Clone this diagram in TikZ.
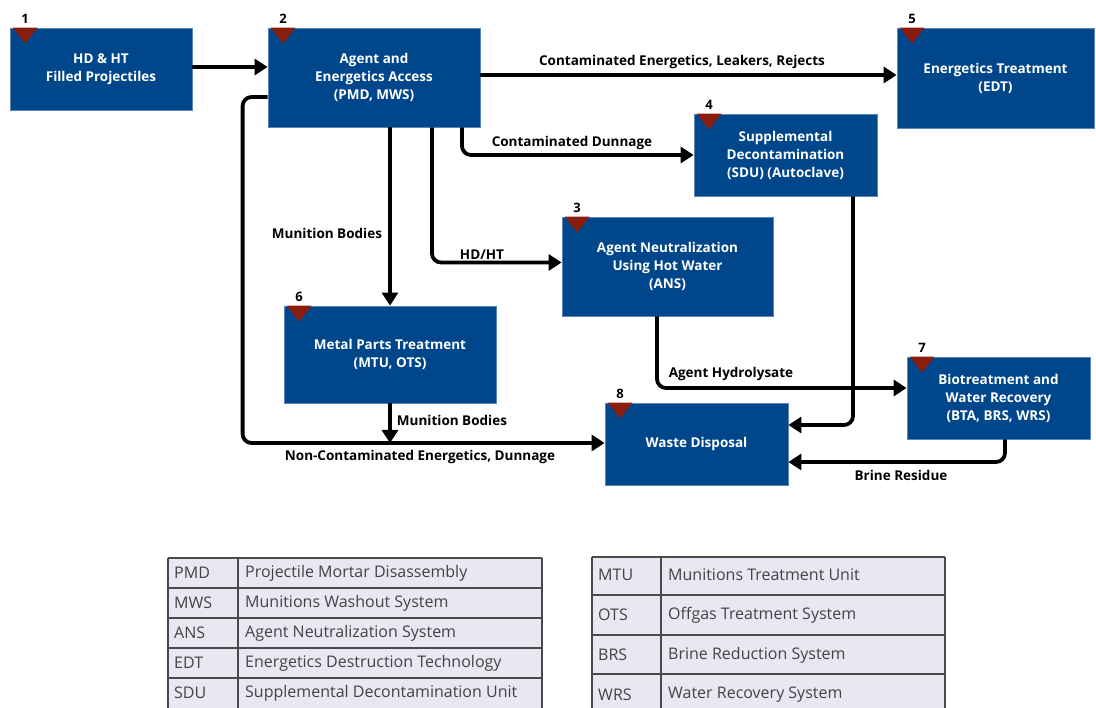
\documentclass[tikz,border=0pt]{standalone}
\usepackage{fontspec}
\setmainfont{Open Sans}
\usepackage{tikz}
\usepackage{xcolor}
\usetikzlibrary{arrows.meta}

\definecolor{unitblue}{HTML}{00468A}
\definecolor{unitedge}{HTML}{5C86B8}
\definecolor{markred}{HTML}{8A1E0E}
\definecolor{tablefill}{HTML}{E7E8F2}
\definecolor{tableline}{HTML}{4A4A4A}

\newcommand{\stepmark}[2]{%
  \fill[markred] ([xshift=3pt]#1.north west) -- ++(25,0) -- ++(-12.5,16) -- cycle;
  \node[stepnum] (n#1) at ([xshift=15.5pt,yshift=9pt]#1.north west) {#2};}

\begin{document}
\begin{tikzpicture}[x=1pt,y=-1pt,
    unit/.style={rectangle,fill=unitblue,draw=unitedge,line width=0.8pt,text=white,
      font=\fontsize{13.5}{18}\selectfont\bfseries,align=center,inner sep=0pt},
    flow/.style={line width=3.8pt,-{Triangle[length=13pt,width=16pt]},rounded corners=9pt},
    flowlabel/.style={font=\fontsize{13.5}{15}\selectfont\bfseries,inner sep=1pt},
    stepnum/.style={font=\fontsize{13}{14}\selectfont\bfseries,inner sep=0pt},
    cell/.style={font=\fontsize{16}{18}\selectfont,text=tableline!90!black,anchor=west,inner sep=0pt}]
\useasboundingbox (0,0) rectangle (1096,708);

% process units
\node[unit,minimum width=182pt,minimum height=82pt] (b1) at (101,69) {HD \& HT\\Filled Projectiles};
\node[unit,minimum width=212pt,minimum height=99pt] (b2) at (374,77.5) {Agent and\\Energetics Access\\(PMD, MWS)};
\node[unit,minimum width=211pt,minimum height=99pt] (b3) at (667.5,266.5) {Agent Neutralization\\Using Hot Water\\(ANS)};
\node[unit,minimum width=183pt,minimum height=82pt] (b4) at (785.5,155) {Supplemental\\Decontamination\\(SDU) (Autoclave)};
\node[unit,minimum width=197pt,minimum height=100pt] (b5) at (995.5,78) {Energetics Treatment\\(EDT)};
\node[unit,minimum width=212pt,minimum height=97pt] (b6) at (390,354.5) {Metal Parts Treatment\\(MTU, OTS)};
\node[unit,minimum width=183pt,minimum height=82pt] (b7) at (998.5,398) {Biotreatment and\\Water Recovery\\(BTA, BRS, WRS)};
\node[unit,minimum width=183pt,minimum height=82pt] (b8) at (696.5,444) {Waste Disposal};

% step markers
\stepmark{b1}{1}
\stepmark{b2}{2}
\stepmark{b3}{3}
\stepmark{b4}{4}
\stepmark{b5}{5}
\stepmark{b6}{6}
\stepmark{b7}{7}
\stepmark{b8}{8}

% flows
\draw[flow] ([yshift=2pt]b1.east) -- ([yshift=2pt]b1.east -| b2.west);
\draw[flow] ([yshift=2.5pt]b2.east) -- ([yshift=2.5pt]b2.east -| b5.west);
\draw[flow] ([xshift=88pt]b2.south) |- (b4.west);
\draw[flow] ([xshift=58pt]b2.south) |- ([yshift=4pt]b3.west);
\draw[flow] ([xshift=16pt]b2.south) -- (b6.north);
\draw[flow] ([yshift=-19.5pt]b2.west) -- ++(-25,0) |- ([yshift=1pt]b8.west);
\draw[flow] (b6.south) -- ([yshift=1pt]b6.south |- b8.west);
\draw[flow] ([xshift=-10.5pt]b3.south) |- ([yshift=10pt]b7.west);
\draw[flow] ([xshift=67.5pt]b4.south) |- ([yshift=19pt]b8.east);
\draw[flow] ([xshift=6.5pt]b7.south) |- ([yshift=-18pt]b8.east);

% flow labels
\node[flowlabel] (l1) at (682,62) {Contaminated Energetics, Leakers, Rejects};
\node[flowlabel] (l2) at (572,143) {Contaminated Dunnage};
\node[flowlabel] (l3) at (482,255) {HD/HT};
\node[flowlabel] (l4) at (327,233) {Munition Bodies};
\node[flowlabel] (l5) at (452,420) {Munition Bodies};
\node[flowlabel] (l6) at (420,457) {Non-Contaminated Energetics, Dunnage};
\node[flowlabel] (l7) at (731,374) {Agent Hydrolysate};
\node[flowlabel] (l8) at (901,475) {Brine Residue};

% acronym tables
\fill[tablefill] (168,558) rectangle (542,712);
\foreach \y in {558,588,618,648,678} \draw[tableline,line width=1.2pt] (168,\y) -- (542,\y);
\draw[tableline,line width=1.2pt] (168,558) -- (168,712) (238,558) -- (238,712);
\draw[tableline,line width=2pt] (542,558) -- (542,712);
\foreach \abbr/\full [count=\i] in {PMD/Projectile Mortar Disassembly,MWS/Munitions Washout System,
    ANS/Agent Neutralization System,EDT/Energetics Destruction Technology,SDU/Supplemental Decontamination Unit}{
  \node[cell] (ta\i) at (174,543+30*\i) {\abbr};
  \node[cell] (tf\i) at (245,543+30*\i) {\full};
}
\fill[tablefill] (592,557) rectangle (945,714);
\foreach \y in {557,595,635,674} \draw[tableline,line width=1.2pt] (592,\y) -- (945,\y);
\draw[tableline,line width=1.2pt] (592,557) -- (592,714) (661,557) -- (661,714);
\draw[tableline,line width=2pt] (945,557) -- (945,714);
\foreach \abbr/\full [count=\i] in {MTU/Munitions Treatment Unit,OTS/Offgas Treatment System,
    BRS/Brine Reduction System,WRS/Water Recovery System}{
  \node[cell] (ra\i) at (598,535+40*\i) {\abbr};
  \node[cell] (rf\i) at (668,535+40*\i) {\full};
}
\end{tikzpicture}
\end{document}
